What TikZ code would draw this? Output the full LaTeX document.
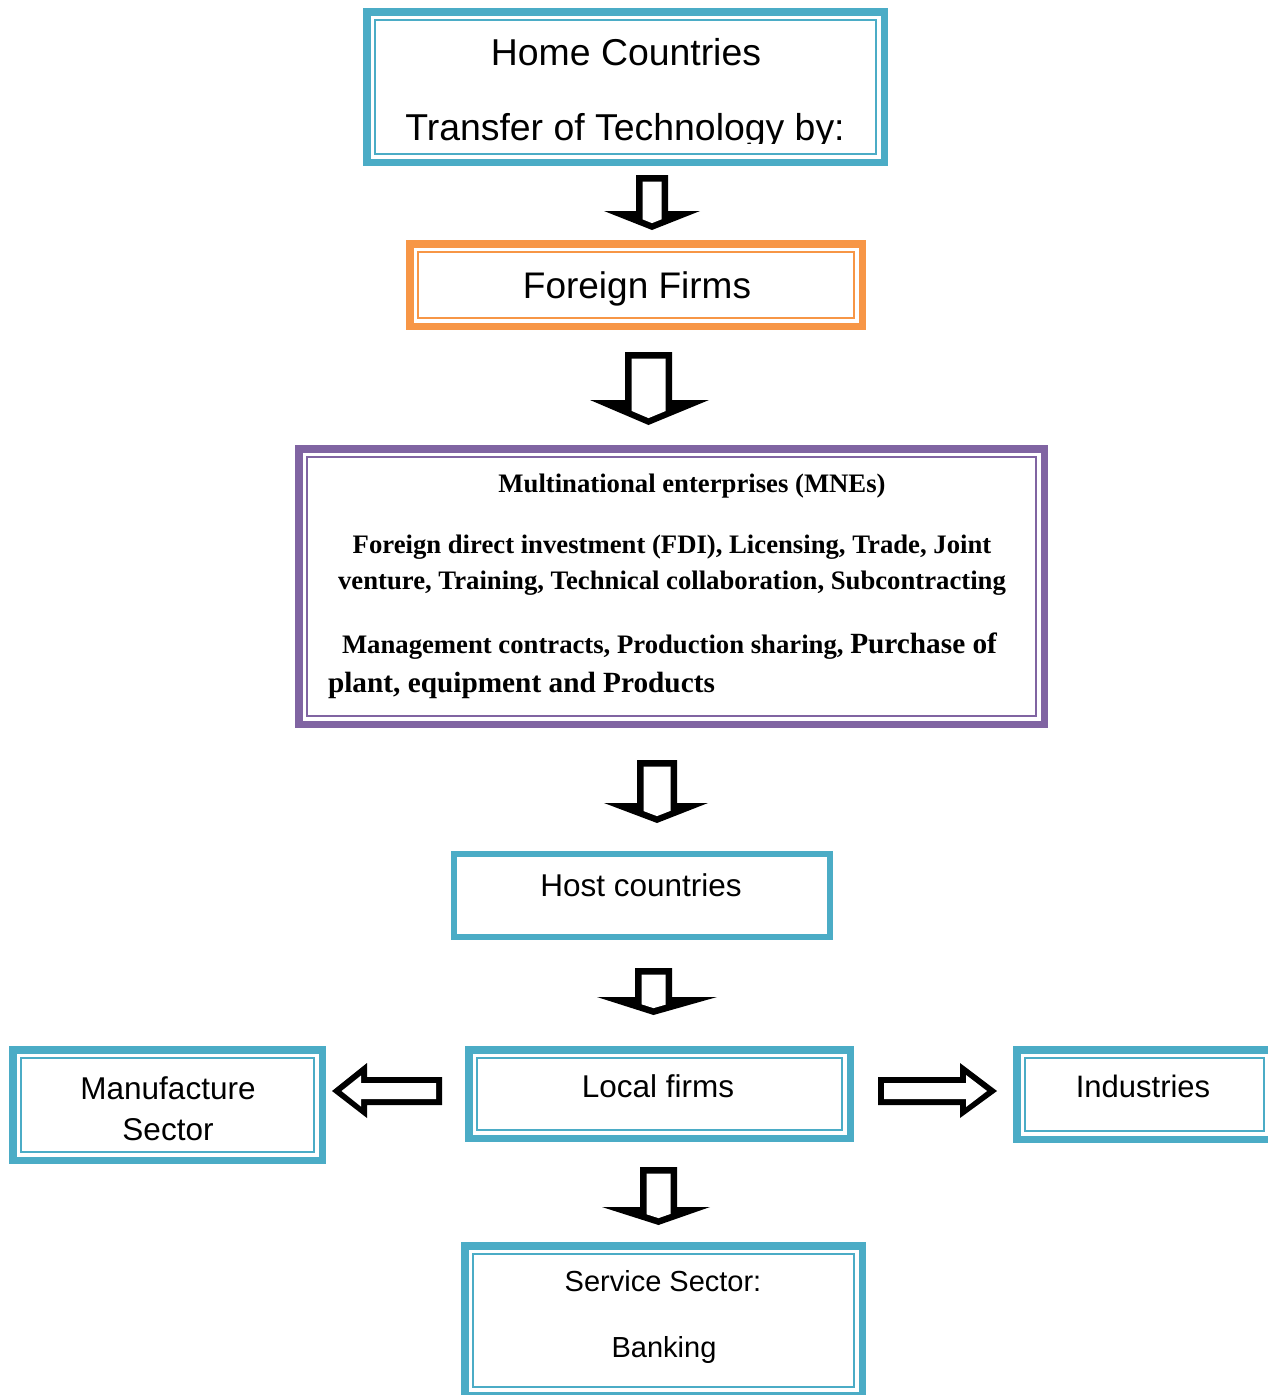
\documentclass[tikz,border=0pt]{standalone}
\usepackage{fontspec}
\setmainfont{Liberation Sans}
\newfontfamily\tnr{Liberation Serif}
\definecolor{cy}{HTML}{4BACC6}
\definecolor{org}{HTML}{F79646}
\definecolor{pur}{HTML}{8064A2}
\tikzset{
  box/.style={draw=#1, line width=7.5pt, fill=white, inner sep=0pt, outer sep=0pt, rectangle},
  sbox/.style={draw=#1, line width=6pt, fill=white, inner sep=0pt, outer sep=0pt, rectangle},
  txt/.style={inner sep=0pt, outer sep=0pt, anchor=base},
  txtl/.style={inner sep=0pt, outer sep=0pt, anchor=base west},
  blk/.style={fill=black},
}
\newcommand{\innerline}[2]{\draw[#2, line width=2pt] ([shift={(8.5,8.5)}]#1.north west) rectangle ([shift={(-8.5,-8.5)}]#1.south east);}
% a b t h wl wr p
\newcommand{\darrow}[7]{%
  \pgfmathsetmacro\myc{(#1+#2)/2}%
  \pgfmathsetmacro\mya{#4+(#7-#4)*((#1+6.5)-#5)/(\myc-#5)-6.9}%
  \pgfmathsetmacro\myb{#4+(#7-#4)*(#6-(#2-6.5))/(#6-\myc)-6.9}%
  \pgfmathsetmacro\myt{#7-6.9}%
  \fill[blk] (#1,#3) -- (#2,#3) -- (#2,#4) -- (#6,#4) -- (\myc,#7) -- (#5,#4) -- (#1,#4) -- cycle;
  \fill[white] ({#1+6.5},{#3+6.5}) -- ({#2-6.5},{#3+6.5}) -- ({#2-6.5},\myb) -- (\myc,\myt) -- ({#1+6.5},\mya) -- cycle;
}
\begin{document}
\begin{tikzpicture}[x=1pt,y=-1pt]
\useasboundingbox (0,0) rectangle (1268,1395);

% boxes
\node[box=cy, minimum width=517.5pt, minimum height=150.5pt] (home) at (625.5,87) {};
\innerline{home}{cy}
\begin{scope}
  \clip (340,0) rectangle (900,143);
  \node[txt, font=\fontsize{37.4}{44}\selectfont] (home1) at (626,65) {Home Countries};
  \node[txt, font=\fontsize{37.4}{44}\selectfont] (home2) at (625,140) {Transfer of Technology by:};
\end{scope}

\node[box=org, minimum width=452.5pt, minimum height=82.5pt] (foreign) at (636,285) {};
\innerline{foreign}{org}
\node[txt, font=\fontsize{37}{44}\selectfont] (foreignt) at (637,298) {Foreign Firms};

\node[box=pur, minimum width=745.5pt, minimum height=275.5pt] (mne) at (671.5,586.5) {};
\innerline{mne}{pur}
\node[txt, font=\tnr\bfseries\fontsize{26.7}{30}\selectfont] (m1) at (692,492) {Multinational enterprises (MNEs)};
\node[txt, font=\tnr\bfseries\fontsize{26.7}{30}\selectfont] (m2) at (672,553) {Foreign direct investment (FDI), Licensing, Trade, Joint};
\node[txt, font=\tnr\bfseries\fontsize{26.7}{30}\selectfont] (m3) at (672,589) {venture, Training, Technical collaboration, Subcontracting};
\node[txtl, font=\tnr\bfseries\fontsize{26.7}{30}\selectfont] (m4) at (342,653) {Management contracts, Production sharing, {\fontsize{29.3}{33}\selectfont Purchase of}};
\node[txtl, font=\tnr\bfseries\fontsize{29.3}{33}\selectfont] (m5) at (328,692) {plant, equipment and Products};

\node[sbox=cy, minimum width=376pt, minimum height=83pt] (host) at (642,895.5) {};
\node[txt, font=\fontsize{31.5}{38}\selectfont] (hostt) at (641,896) {Host countries};

\node[box=cy, minimum width=381.5pt, minimum height=88.5pt] (local) at (659.5,1094) {};
\innerline{local}{cy}
\node[txt, font=\fontsize{31.5}{38}\selectfont] (localt) at (658,1097) {Local firms};

\node[box=cy, minimum width=309.5pt, minimum height=110.5pt] (manuf) at (167.5,1105) {};
\innerline{manuf}{cy}
\node[txt, font=\fontsize{31.5}{38}\selectfont] (manuf1) at (168,1099) {Manufacture};
\node[txt, font=\fontsize{31.5}{38}\selectfont] (manuf2) at (168,1140) {Sector};

\node[box=cy, minimum width=255.5pt, minimum height=89.5pt] (ind) at (1144.5,1094.5) {};
\innerline{ind}{cy}
\node[txt, font=\fontsize{31}{37}\selectfont] (indt) at (1143,1097) {Industries};

\node[box=cy, minimum width=397.5pt, minimum height=149.5pt] (service) at (663.5,1320.5) {};
\innerline{service}{cy}
\node[txt, font=\fontsize{29}{35}\selectfont] (serv1) at (663,1291) {Service Sector:};
\node[txt, font=\fontsize{29}{35}\selectfont] (serv2) at (664,1357) {Banking};

% down block arrows
\darrow{636}{668}{175}{211}{604}{700}{230}
\darrow{625}{672}{352}{400}{590}{709}{425}
\darrow{637}{677}{760}{803}{604}{708}{823}
\darrow{635}{672}{968}{997}{597}{717}{1015}
\darrow{640}{677}{1167}{1207}{602}{710}{1225}

% left arrow (local -> manufacture)
\fill[blk] (332,1091) -- (367,1063) -- (367,1077) -- (442,1077) -- (442,1105) -- (367,1105) -- (367,1118) -- cycle;
\fill[white] (341.6,1091) -- (361,1075.5) -- (361,1083) -- (436,1083) -- (436,1099) -- (361,1099) -- (361,1106.5) -- cycle;
% right arrow (local -> industries)
\fill[blk] (878,1077) -- (960,1077) -- (960,1063) -- (997,1091) -- (960,1118) -- (960,1105) -- (878,1105) -- cycle;
\fill[white] (884,1083) -- (966,1083) -- (966,1075) -- (987,1091) -- (966,1107) -- (966,1099) -- (884,1099) -- cycle;
\end{tikzpicture}
\end{document}
